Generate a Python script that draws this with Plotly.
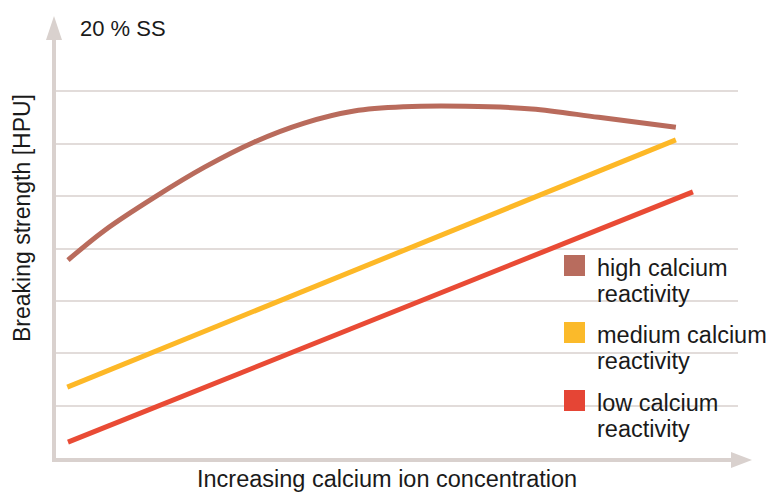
import plotly.graph_objects as go

# ---- data (relative units) ----
high_x = [0.19, 0.73, 1.46, 2.19, 2.92, 3.65, 4.38, 5.11, 6.01, 6.98, 7.96, 9.09]
high_y = [3.78, 4.35, 4.98, 5.55, 6.03, 6.39, 6.62, 6.70, 6.71, 6.66, 6.50, 6.31]
med_x = [0.18, 9.09]
med_y = [1.36, 6.07]
low_x = [0.19, 9.34]
low_y = [0.31, 5.08]
grid_vals = [1, 2, 3, 4, 5, 6, 7]

legend_line1 = ["high calcium", "medium calcium", "low calcium"]
legend_line2 = ["reactivity", "reactivity", "reactivity"]
line_colors = ["#B96B5C", "#FDB827", "#E94B35"]
legend_colors = ["#B86C5E", "#FBBA2A", "#E54535"]

W, H = 775, 492
ML, MR, MT, MB = 55, 37, 15, 32
PW, PH = W - ML - MR, H - MT - MB

def px(x):
    return (x - ML) / PW

def py(y):
    return (H - MB - y) / PH

fig = go.Figure()
for xs, ys, c, shape in [(high_x, high_y, line_colors[0], "spline"),
                          (med_x, med_y, line_colors[1], "linear"),
                          (low_x, low_y, line_colors[2], "linear")]:
    fig.add_trace(go.Scatter(x=xs, y=ys, mode="lines", showlegend=False,
                             line=dict(color=c, width=5, shape=shape), hoverinfo="skip"))

axis_col = "#D9D1CE"
shapes = [
    dict(type="line", xref="paper", yref="paper", x0=px(54), x1=px(54), y0=py(462), y1=py(36),
         line=dict(color=axis_col, width=4)),
    dict(type="path", xref="paper", yref="paper", fillcolor=axis_col, line=dict(width=0),
         path=f"M{px(54)},{py(16)} L{px(46)},{py(40)} L{px(62)},{py(40)} Z"),
    dict(type="line", xref="paper", yref="paper", x0=px(52), x1=px(734), y0=py(460), y1=py(460),
         line=dict(color=axis_col, width=4)),
    dict(type="path", xref="paper", yref="paper", fillcolor=axis_col, line=dict(width=0),
         path=f"M{px(752)},{py(460)} L{px(731)},{py(452)} L{px(731)},{py(468)} Z"),
]

font_family = "Liberation Sans, Arial, sans-serif"
txt = "#1a1a1a"
annotations = [
    dict(text="20 % SS", xref="paper", yref="paper", x=px(78), y=py(28), showarrow=False,
         xanchor="left", yanchor="middle", font=dict(size=22, color=txt)),
    dict(text="Breaking strength [HPU]", xref="paper", yref="paper", x=px(22), y=py(218),
         showarrow=False, textangle=-90, xanchor="center", yanchor="middle",
         font=dict(size=23, color=txt)),
    dict(text="Increasing calcium ion concentration", xref="paper", yref="paper", x=px(387), y=py(479),
         showarrow=False, xanchor="center", yanchor="middle", font=dict(size=23.5, color=txt)),
]

# legend drawn as squares + text lines
sq_top = [255, 322, 390]
for i in range(3):
    t = sq_top[i]
    shapes.append(dict(type="rect", xref="paper", yref="paper",
                       x0=px(564), x1=px(585), y0=py(t), y1=py(t + 21),
                       fillcolor=legend_colors[i], line=dict(width=0)))
    for j, s in enumerate([legend_line1[i], legend_line2[i]]):
        annotations.append(dict(text=s, xref="paper", yref="paper", x=px(596), y=py(t + 13 + 26 * j),
                                showarrow=False, xanchor="left", yanchor="middle", borderpad=0,
                                font=dict(size=23.5, color=txt)))

fig.update_layout(
    width=W, height=H,
    margin=dict(l=ML, r=MR, t=MT, b=MB),
    paper_bgcolor="white", plot_bgcolor="white",
    font=dict(family=font_family, color=txt),
    xaxis=dict(range=[0, 10], showgrid=False, zeroline=False, showticklabels=False, ticks=""),
    yaxis=dict(range=[-0.03, 8.45], tickmode="array", tickvals=grid_vals, showgrid=True,
               gridcolor="#E2DCDA", gridwidth=1.5, zeroline=False, showticklabels=False, ticks=""),
    shapes=shapes, annotations=annotations, showlegend=False,
)

fig.write_html("out.html", config={"displayModeBar": False})

# remove default page margin so the figure sits at the window's corner
with open("out.html", "r", encoding="utf-8") as f:
    html = f.read()
html = html.replace("<head>", "<head><style>html,body{margin:0;padding:0;overflow:hidden;}</style>", 1)
with open("out.html", "w", encoding="utf-8") as f:
    f.write(html)
